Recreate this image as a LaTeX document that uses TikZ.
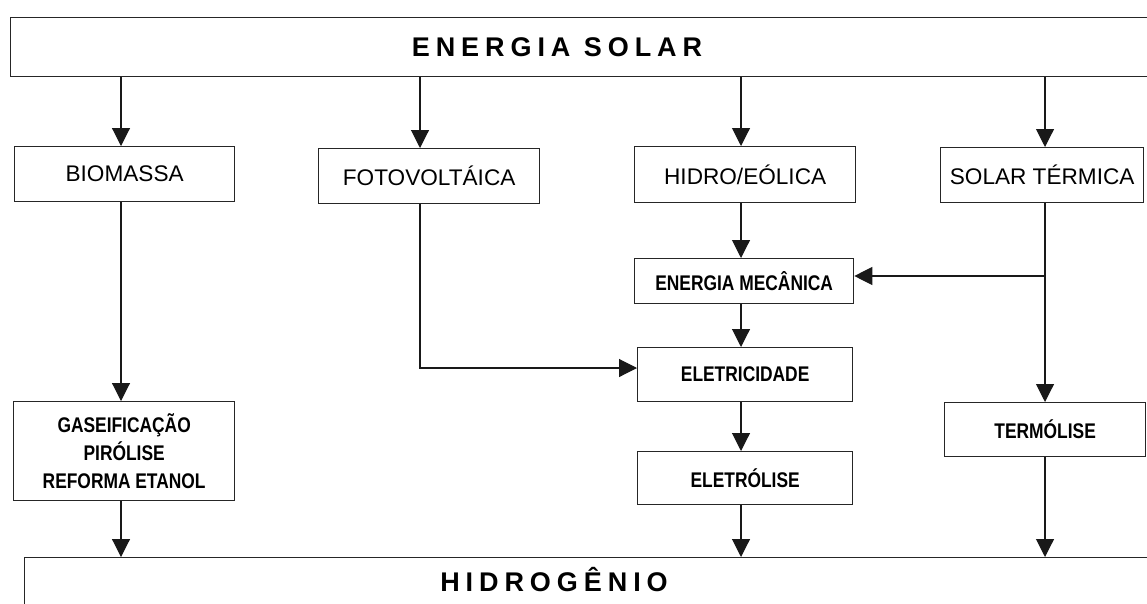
\documentclass[tikz,border=0pt]{standalone}
\usepackage{fontspec}
\setmainfont{Liberation Sans}
\newfontfamily\narrowfont[FakeStretch=0.82]{Liberation Sans}
\newfontfamily\spacedfont[LetterSpace=22]{Liberation Sans}
\usetikzlibrary{arrows.meta}
\tikzset{
  box/.style={draw=black!85, line width=1.3pt, rectangle, inner sep=0pt, anchor=north west, fill=white},
  toplbl/.style={font=\fontsize{22.6}{26}\selectfont},
  lowlbl/.style={font=\narrowfont\bfseries\fontsize{21.2}{28}\selectfont, align=center},
  biglbl/.style={font=\spacedfont\bfseries\fontsize{27}{30}\selectfont, anchor=base, inner sep=0pt},
  arr/.style={draw=black!90, line width=1.1pt, -{Triangle[length=18pt,width=18pt]}},
}
\begin{document}
\begin{tikzpicture}[x=1pt,y=-1pt]
\clip (0,0) rectangle (1147,603);
\fill[white] (0,0) rectangle (1147,603);
% column and row coordinates
\coordinate (cB) at (121,0);
\coordinate (cF) at (420,0);
\coordinate (cH) at (741,0);
\coordinate (cT) at (1045,0);
\coordinate (yF) at (0,368);
\coordinate (yM) at (0,276);
% top and bottom bands
\node[box, minimum width=1200pt, minimum height=59pt] (solar) at (10,17) {};
\node[biglbl] (solartxt) at (557,56) {ENERGIA SOLAR};
\node[box, minimum width=1200pt, minimum height=100pt] (hid) at (24,557) {};
\node[biglbl] (hidtxt) at (554,591) {HIDROGÊNIO};
% first row
\node[box, toplbl, minimum width=220pt, minimum height=55pt] (bio) at (14,146) {BIOMASSA};
\node[box, toplbl, minimum width=221pt, minimum height=55pt] (foto) at (318,148) {FOTOVOLTÁICA};
\node[box, toplbl, minimum width=221pt, minimum height=56pt] (hidro) at (634,146) {HIDRO/EÓLICA};
\node[box, toplbl, minimum width=203pt, minimum height=55pt] (term) at (940,147) {SOLAR TÉRMICA};
% lower boxes
\node[box, lowlbl, minimum width=219pt, minimum height=45pt] (mec) at (634,258) {ENERGIA MECÂNICA};
\node[box, lowlbl, minimum width=215pt, minimum height=54pt] (elet) at (637,347) {ELETRICIDADE};
\node[box, lowlbl, minimum width=215pt, minimum height=53pt] (eletrol) at (637,451) {ELETRÓLISE};
\node[box, lowlbl, minimum width=201pt, minimum height=54pt] (termol) at (944,402) {TERMÓLISE};
\node[box, lowlbl, minimum width=221pt, minimum height=99pt] (gas) at (13,401) {GASEIFICAÇÃO\\PIRÓLISE\\REFORMA ETANOL};
% connectors
\draw[arr] (cB |- solar.south) -- (cB |- bio.north);
\draw[arr] (cF |- solar.south) -- (cF |- foto.north);
\draw[arr] (cH |- solar.south) -- (cH |- hidro.north);
\draw[arr] (cT |- solar.south) -- (cT |- term.north);
\draw[arr] (cB |- bio.south) -- (cB |- gas.north);
\draw[arr] (cB |- gas.south) -- (cB |- hid.north);
\draw[arr] (cH |- hidro.south) -- (cH |- mec.north);
\draw[arr] (cH |- mec.south) -- (cH |- elet.north);
\draw[arr] (cH |- elet.south) -- (cH |- eletrol.north);
\draw[arr] (cH |- eletrol.south) -- (cH |- hid.north);
\draw[arr] (cF |- foto.south) -- (cF |- yF) -- (elet.west |- yF);
\draw[arr] (cT |- term.south) -- (cT |- termol.north);
\draw[arr] (cT |- yM) -- (mec.east |- yM);
\draw[arr] (cT |- termol.south) -- (cT |- hid.north);
\end{tikzpicture}
\end{document}
